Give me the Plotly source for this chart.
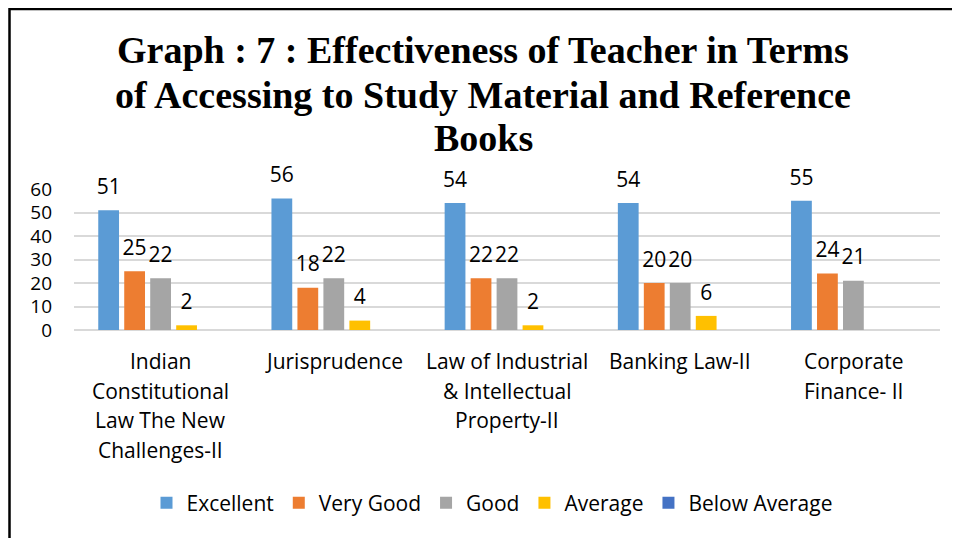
import plotly.graph_objects as go

categories = ["Indian Constitutional Law The New Challenges-II", "Jurisprudence",
              "Law of Industrial & Intellectual Property-II", "Banking Law-II",
              "Corporate Finance- II"]
category_lines = [["Indian", "Constitutional", "Law The New", "Challenges-II"],
                  ["Jurisprudence"],
                  ["Law of Industrial", "& Intellectual", "Property-II"],
                  ["Banking Law-II"],
                  ["Corporate", "Finance- II"]]
title_lines = ["Graph : 7 : Effectiveness of Teacher in Terms",
               "of Accessing to Study Material and Reference",
               "Books"]
series_names = ["Excellent", "Very Good", "Good", "Average", "Below Average"]
excellent = [51, 56, 54, 54, 55]
very_good = [25, 18, 22, 20, 24]
good = [22, 22, 22, 20, 21]
average = [2, 4, 2, 6, None]
below_average = [None, None, None, None, None]
y_ticks = [0, 10, 20, 30, 40, 50, 60]

colors = ["#5B9BD5", "#ED7D31", "#A5A5A5", "#FFC000", "#4472C4"]
series = [excellent, very_good, good, average, below_average]

SANS = "Open Sans, Lato, sans-serif"
SERIF = "Liberation Serif, Times New Roman, serif"

W, H = 960, 538
OFF = 8  # page body margin
ml, mt = 74 - OFF, 189 - OFF
pw, ph = 866, 141
mr, mb = W - ml - pw, H - mt - ph

fig = go.Figure()
for i, (name, vals, col) in enumerate(zip(series_names, series, colors)):
    fig.add_trace(go.Bar(
        name=name, x=categories, y=vals, marker_color=col,
        marker_line_width=0, offsetgroup=str(i), hoverinfo="skip",
    ))
for i, (name, vals) in enumerate(zip(series_names, series)):
    fig.add_trace(go.Scatter(
        x=categories, y=vals, mode="markers+text", offsetgroup=str(i),
        text=[("" if v is None else str(v)) for v in vals],
        textposition="top center", cliponaxis=False, showlegend=False,
        marker=dict(size=16, opacity=0), hoverinfo="skip",
        textfont=dict(family=SANS, size=21, color="#000000"),
    ))

annotations = []
for cat, lines in zip(categories, category_lines):
    for i, ln in enumerate(lines):
        annotations.append(dict(
            x=cat, y=0, xref="x", yref="y", text=ln, showarrow=False,
            yanchor="middle", yshift=-31 - 29.5 * i,
            font=dict(family=SANS, size=21, color="#000000"),
        ))

def px_to_paper_x(px):
    return (px - OFF - ml) / pw

def px_to_paper_y(py):
    return (H - mb - (py - OFF)) / ph

for ln, cy in zip(title_lines, [50, 95, 138]):
    annotations.append(dict(
        x=px_to_paper_x(483), y=px_to_paper_y(cy), xref="paper", yref="paper",
        text="<b>" + ln + "</b>", showarrow=False, xanchor="center", yanchor="middle",
        font=dict(family=SERIF, size=38, color="#000000"),
    ))

shapes = [dict(type="rect", xref="paper", yref="paper",
               x0=px_to_paper_x(9.5), x1=px_to_paper_x(990),
               y0=px_to_paper_y(580), y1=px_to_paper_y(9),
               line=dict(color="#000000", width=2.5), fillcolor="rgba(0,0,0,0)")]

fig.update_layout(
    width=W, height=H,
    margin=dict(l=ml, r=mr, t=mt, b=mb),
    paper_bgcolor="white", plot_bgcolor="white",
    barmode="group", bargap=0.25, bargroupgap=0.2,
    scattermode="group", scattergap=0.25,
    xaxis=dict(showticklabels=False, showline=False, showgrid=False, ticks=""),
    yaxis=dict(range=[0, 60], tickvals=y_ticks, showgrid=True, gridcolor="#D9D9D9",
               gridwidth=1.5, zeroline=True, zerolinecolor="#D9D9D9", zerolinewidth=1.5,
               showline=False, ticks="", ticklabelstandoff=21,
               tickfont=dict(family=SANS, size=19, color="#000000")),
    legend=dict(orientation="h", xref="container", yref="container",
                x=(492 - OFF) / W, xanchor="center", y=1 - (503 - OFF) / H, yanchor="middle",
                font=dict(family=SANS, size=21, color="#000000"),
                itemwidth=30, traceorder="normal"),
    annotations=annotations,
    shapes=shapes,
    showlegend=True,
)

fig.write_html("out.html")
